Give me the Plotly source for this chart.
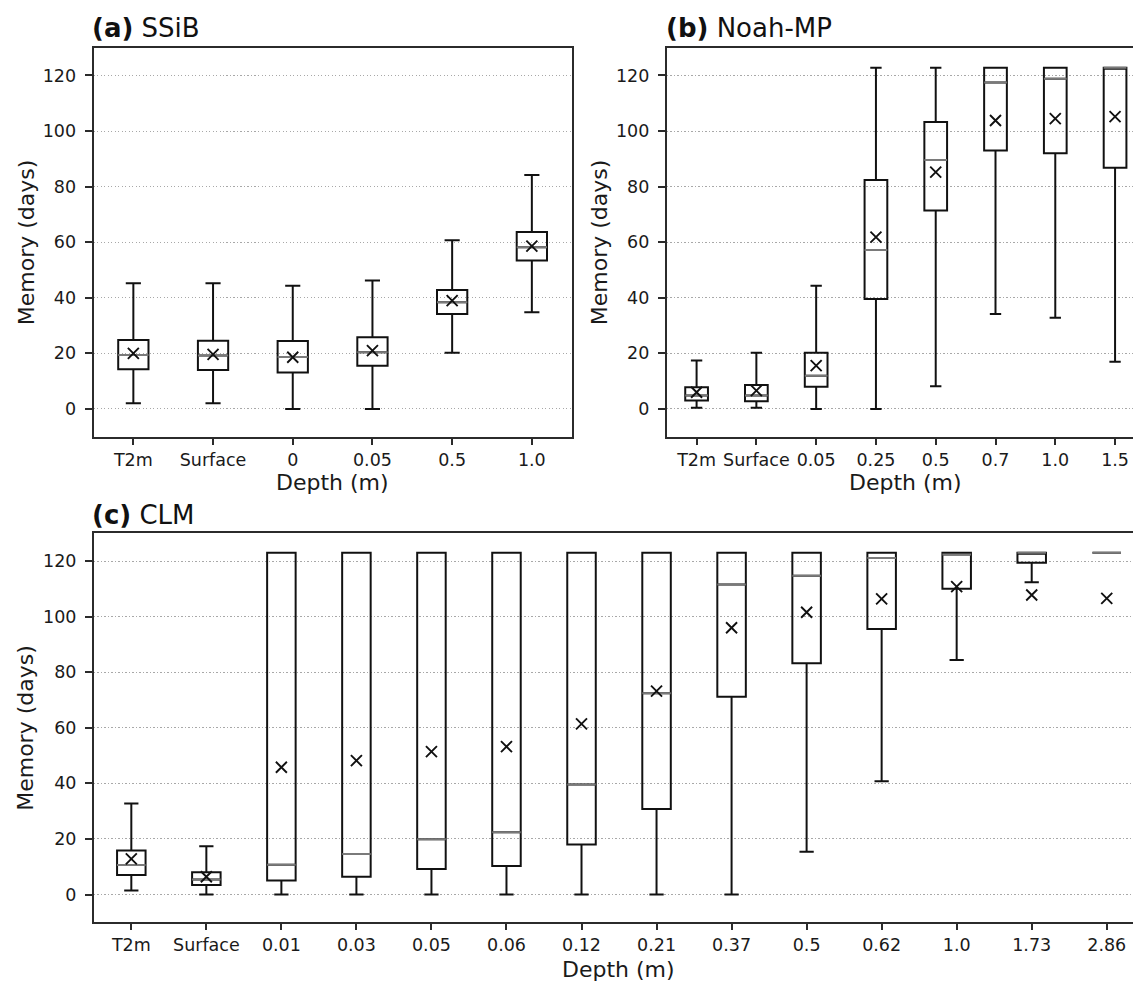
import plotly.graph_objects as go

# ---------------- data ----------------
# (a) SSiB
a_labels = ["T2m", "Surface", "0", "0.05", "0.5", "1.0"]
a_lower = [2.0, 2.0, 0.0, 0.0, 20.2, 34.8]
a_q1 = [14.3, 14.0, 13.1, 15.5, 34.2, 53.4]
a_median = [19.4, 19.2, 18.7, 20.4, 38.4, 58.2]
a_q3 = [24.8, 24.5, 24.4, 25.8, 42.8, 63.7]
a_upper = [45.2, 45.2, 44.3, 46.2, 60.7, 84.2]
a_mean = [20.0, 19.6, 18.6, 21.0, 39.0, 58.6]

# (b) Noah-MP
b_labels = ["T2m", "Surface", "0.05", "0.25", "0.5", "0.7", "1.0", "1.5"]
b_lower = [0.4, 0.4, 0.0, 0.0, 8.2, 34.2, 32.8, 17.0]
b_q1 = [3.0, 2.8, 8.0, 39.6, 71.4, 93.0, 92.0, 86.8]
b_median = [4.8, 4.8, 11.9, 57.2, 89.6, 117.5, 118.8, 122.8]
b_q3 = [7.8, 8.6, 20.2, 82.4, 103.3, 122.8, 122.8, 122.8]
b_upper = [17.4, 20.2, 44.3, 122.8, 122.8, 122.8, 122.8, 122.8]
b_mean = [6.0, 6.6, 15.6, 61.8, 85.2, 103.8, 104.5, 105.2]

# (c) CLM
c_labels = ["T2m", "Surface", "0.01", "0.03", "0.05", "0.06", "0.12",
            "0.21", "0.37", "0.5", "0.62", "1.0", "1.73", "2.86"]
c_lower = [1.4, 0.0, 0.0, 0.0, 0.0, 0.0, 0.0, 0.0, 0.0, 15.4, 40.8, 84.4, 112.4, 123.0]
c_q1 = [7.0, 3.4, 5.0, 6.4, 9.2, 10.3, 18.0, 30.8, 71.2, 83.2, 95.6, 110.0, 119.4, 123.0]
c_median = [10.6, 5.4, 10.7, 14.6, 19.9, 22.4, 39.6, 72.4, 111.6, 114.7, 121.1, 122.4, 123.0, 123.0]
c_q3 = [15.8, 8.0, 123.0, 123.0, 123.0, 123.0, 123.0, 123.0, 123.0, 123.0, 123.0, 123.0, 123.0, 123.0]
c_upper = [32.8, 17.4, 123.0, 123.0, 123.0, 123.0, 123.0, 123.0, 123.0, 123.0, 123.0, 123.0, 123.0, 123.0]
c_mean = [12.8, 6.4, 45.8, 48.2, 51.4, 53.2, 61.4, 73.2, 96.0, 101.6, 106.4, 110.8, 107.8, 106.6]

y_ticks = [0, 20, 40, 60, 80, 100, 120]

# ---------------- style ----------------
W, H = 1133, 983
FONT = "DejaVu Sans"
BOX_W = 0.38
BOX_COLOR = "#111111"
MED_COLOR = "#7a7a7a"
FRAME_COLOR = "#2b2b2b"
GRID_COLOR = "#a8a8a8"


def px_x(p):
    return p / W


def px_y(p):
    return 1 - p / H


fig = go.Figure()

panels = [
    dict(name="a", labels=a_labels, lower=a_lower, q1=a_q1, med=a_median, q3=a_q3,
         upper=a_upper, mean=a_mean, xref="x", yref="y",
         xdom=[px_x(93.5), px_x(571.7)], ydom=[px_y(436.7), px_y(47.7)],
         xrange=[-0.5, len(a_labels) - 0.5], right=True),
    dict(name="b", labels=b_labels, lower=b_lower, q1=b_q1, med=b_median, q3=b_q3,
         upper=b_upper, mean=b_mean, xref="x2", yref="y2",
         xdom=[px_x(666.7), 1.0], ydom=[px_y(436.7), px_y(47.7)],
         xrange=[-0.5, 7.30], right=False),
    dict(name="c", labels=c_labels, lower=c_lower, q1=c_q1, med=c_median, q3=c_q3,
         upper=c_upper, mean=c_mean, xref="x3", yref="y3",
         xdom=[px_x(93.8), 1.0], ydom=[px_y(922.3), px_y(533.3)],
         xrange=[-0.5, 13.35], right=False),
]

layout_axes = {}
for i, p in enumerate(panels):
    pos = list(range(len(p["labels"])))
    fig.add_trace(go.Box(
        x=pos, q1=p["q1"], median=p["med"], q3=p["q3"],
        lowerfence=p["lower"], upperfence=p["upper"],
        width=BOX_W, whiskerwidth=0.5, boxpoints=False,
        line=dict(color=BOX_COLOR, width=2),
        fillcolor="rgba(0,0,0,0)",
        xaxis=p["xref"], yaxis=p["yref"], showlegend=False, hoverinfo="skip",
    ))
    # gray median lines on top
    mx, my = [], []
    for k, m in zip(pos, p["med"]):
        mx += [k - BOX_W / 2, k + BOX_W / 2, None]
        my += [m, m, None]
    fig.add_trace(go.Scatter(
        x=mx, y=my, mode="lines", line=dict(color=MED_COLOR, width=2),
        xaxis=p["xref"], yaxis=p["yref"], showlegend=False, hoverinfo="skip",
    ))
    # mean markers
    fig.add_trace(go.Scatter(
        x=pos, y=p["mean"], mode="markers",
        marker=dict(symbol="x-thin", size=11, color=BOX_COLOR,
                    line=dict(color=BOX_COLOR, width=1.9)),
        xaxis=p["xref"], yaxis=p["yref"], showlegend=False, hoverinfo="skip",
    ))

    sfx = "" if i == 0 else str(i + 1)
    layout_axes["xaxis" + sfx] = dict(
        domain=p["xdom"], anchor="y" + sfx, range=p["xrange"],
        tickmode="array", tickvals=pos, ticktext=p["labels"],
        showline=True, linecolor=FRAME_COLOR, linewidth=1.7, mirror=True,
        ticks="outside", ticklen=6, tickwidth=1.6, tickcolor=FRAME_COLOR,
        showgrid=False, zeroline=False, automargin=False,
        tickfont=dict(family=FONT, size=17.5, color="#1a1a1a"),
    )
    layout_axes["yaxis" + sfx] = dict(
        domain=p["ydom"], anchor="x" + sfx, range=[-10, 130],
        tickmode="array", tickvals=y_ticks,
        showline=True, linecolor=FRAME_COLOR, linewidth=1.7,
        mirror=True if p["right"] else False,
        ticks="outside", ticklen=7, tickwidth=1.6, tickcolor=FRAME_COLOR,
        showgrid=True, gridcolor=GRID_COLOR, gridwidth=1.3, griddash="1.3px,2.2px",
        zeroline=False, automargin=False, ticklabelstandoff=5,
        tickfont=dict(family=FONT, size=17.5, color="#1a1a1a"),
    )

ann = []
titles = [("<b>(a)</b> SSiB", 89.5, 28), ("<b>(b)</b> Noah-MP", 663.5, 28),
          ("<b>(c)</b> CLM", 89.5, 515)]
for t, x, y in titles:
    ann.append(dict(text=t, x=px_x(x), y=px_y(y), xref="paper", yref="paper",
                    xanchor="left", yanchor="middle", showarrow=False,
                    font=dict(family=FONT, size=26, color="#111111")))
ylabels = [(26, 242.2), (599, 242.2), (26, 727.8)]
for x, y in ylabels:
    ann.append(dict(text="Memory (days)", x=px_x(x), y=px_y(y), xref="paper", yref="paper",
                    xanchor="center", yanchor="middle", textangle=-90, showarrow=False,
                    font=dict(family=FONT, size=22, color="#1a1a1a")))
xlabels = [(332.6, 483), (905.9, 483), (619, 969)]
for x, y in xlabels:
    ann.append(dict(text="Depth (m)", x=px_x(x), y=px_y(y), xref="paper", yref="paper",
                    xanchor="center", yanchor="middle", showarrow=False,
                    font=dict(family=FONT, size=22, color="#1a1a1a")))

fig.update_layout(
    width=W, height=H,
    margin=dict(l=0, r=0, t=0, b=0, pad=0),
    paper_bgcolor="white", plot_bgcolor="white",
    template="none",
    boxmode="overlay",
    showlegend=False,
    annotations=ann,
    font=dict(family=FONT),
    **layout_axes,
)

fig.write_html(
    "out.html",
    config={"displayModeBar": False},
    post_script="document.body.style.margin='0';document.body.style.padding='0';"
                "document.body.style.overflow='hidden';",
)
